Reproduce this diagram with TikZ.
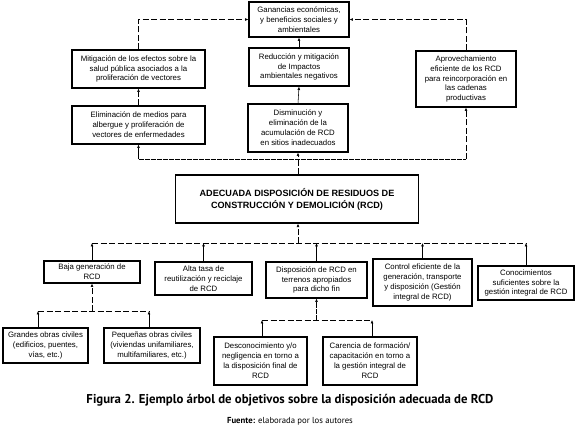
\documentclass[tikz,border=0pt]{standalone}
\usepackage{fontspec}
\setmainfont{Liberation Sans}
\newfontfamily\capfont{PT Sans}
\usetikzlibrary{arrows.meta,calc}
\begin{document}
\begin{tikzpicture}[x=1pt,y=-1pt,
  box/.style={draw, line width=1.1pt, align=center, inner sep=0pt,
    font=\fontsize{7.8}{9.9}\selectfont},
  tip/.style={-{Latex[length=3.4pt,width=2.8pt]}},
  dsh/.style={line width=0.55pt, dash pattern=on 6pt off 2.5pt},
  dot/.style={line width=0.55pt, dash pattern=on 0.6pt off 0.6pt},
  sol/.style={line width=0.55pt}]
\useasboundingbox (0,0) rectangle (580,429);
% top tree
\node[box, minimum width=100pt, minimum height=35pt] (gan) at (299,19.5) {Ganancias económicas,\\y beneficios sociales y\\ambientales};
\node[box, minimum width=100pt, minimum height=38pt] (red) at (299,67) {Reducción y mitigación\\de Impactos\\ambientales negativos};
\node[box, minimum width=100pt, minimum height=48pt] (dis) at (298,128) {Disminución y\\eliminación de la\\acumulación de RCD\\en sitios inadecuados};
\node[box, minimum width=133pt, minimum height=38pt] (mit) at (138.5,69) {Mitigación de los efectos sobre la\\salud pública asociados a la\\proliferación de vectores};
\node[box, minimum width=133pt, minimum height=38pt] (eli) at (138.5,125) {Eliminación de medios para\\albergue y proliferación de\\vectores de enfermedades};
\node[box, minimum width=100pt, minimum height=56pt] (apr) at (466,79) {Aprovechamiento\\eficiente de los RCD\\para reincorporación en\\las cadenas\\productivas};
% main
\node[box, line width=1.2pt, minimum width=243pt, minimum height=48pt, font=\bfseries\fontsize{9.1}{12}\selectfont] (main) at (297,199) {ADECUADA DISPOSICIÓN DE RESIDUOS DE\\CONSTRUCCIÓN Y DEMOLICIÓN (RCD)};
% second row
\node[box, minimum width=96pt, minimum height=22pt] (baja) at (92,272) {Baja generación de\\RCD};
\node[box, minimum width=97pt, minimum height=33pt] (alta) at (203.5,278.5) {Alta tasa de\\reutilización y reciclaje\\de RCD};
\node[box, minimum width=101pt, minimum height=36pt] (disp) at (316.5,280) {Disposición de RCD en\\terrenos apropiados\\para dicho fin};
\node[box, minimum width=99pt, minimum height=47pt] (ctrl) at (422.5,282.5) {Control eficiente de la\\generación, transporte\\y disposición (Gestión\\integral de RCD)};
\node[box, minimum width=96pt, minimum height=34pt] (con) at (526,283) {Conocimientos\\suficientes sobre la\\gestión integral de RCD};
% third row
\node[box, minimum width=85pt, minimum height=35pt] (gra) at (45.5,345.5) {Grandes obras civiles\\(edificios, puentes,\\vías, etc.)};
\node[box, minimum width=96pt, minimum height=35pt] (peq) at (152,345.5) {Pequeñas obras civiles\\(viviendas unifamiliares,\\multifamiliares, etc.)};
\node[box, minimum width=93pt, minimum height=48pt] (desc) at (260.5,361) {Desconocimiento y/o\\negligencia en torno a\\la disposición final de\\RCD};
\node[box, minimum width=94pt, minimum height=48pt] (car) at (370,361) {Carencia de formación/\\capacitación en torno a\\la gestión integral de\\RCD};
% coordinates of the bus lines
\coordinate (dl) at (298,159);
\coordinate (bl) at (298,243);
\coordinate (gl) at (92,311);
\coordinate (cl) at (316.5,320);
% top connectors
\draw[dsh,tip] (mit.north) |- (gan.west);
\draw[dsh,tip] (apr.north) |- (gan.east);
\draw[sol,tip] (red.north) -- (gan.south);
\draw[sol,tip] (dis.north) -- (red.south);
\draw[dsh,tip] (eli.north) -- (mit.south);
\draw[dot] (eli.south |- dl) -- (apr.south |- dl);
\draw[sol,tip] (eli.south |- dl) -- (eli.south);
\draw[dsh,tip] (apr.south |- dl) -- (apr.south);
\draw[dsh,tip] (main.north -| dis.south) -- (dis.south);
% second row connectors
\draw[dsh] (baja.north |- bl) -- (con.north |- bl);
\draw[dsh,tip] (bl) -- (main.south -| bl);
\foreach \n in {baja,alta,disp,ctrl,con}
  \draw[sol,tip] (\n.north) -- (\n.north |- bl);
% baja subtree
\coordinate (gra-t) at ([xshift=-7.5pt]gra.north);
\coordinate (peq-t) at ([xshift=-3pt]peq.north);
\draw[dsh] (gra-t |- gl) -- (peq-t |- gl);
\draw[sol,tip] (gra-t) -- (gra-t |- gl);
\draw[sol,tip] (peq-t) -- (peq-t |- gl);
\draw[dsh,tip] (gl) -- (baja.south);
% disp subtree
\coordinate (desc-t) at ([xshift=1.5pt]desc.north);
\coordinate (car-t) at ([xshift=2pt]car.north);
\draw[dsh] (desc-t |- cl) -- (car-t |- cl);
\draw[sol,tip] (desc-t) -- (desc-t |- cl);
\draw[sol,tip] (car-t) -- (car-t |- cl);
\draw[dot,tip] (cl) -- (disp.south);
% caption
\node[font=\capfont\bfseries\fontsize{12.8}{14}\selectfont, inner sep=0pt] (cap) at (290,400) {Figura 2. Ejemplo árbol de objetivos sobre la disposición adecuada de RCD};
\node[font=\capfont\fontsize{8.7}{10}\selectfont, inner sep=0pt] (src) at (290,421) {\textbf{Fuente:} elaborada por los autores};
\end{tikzpicture}
\end{document}
